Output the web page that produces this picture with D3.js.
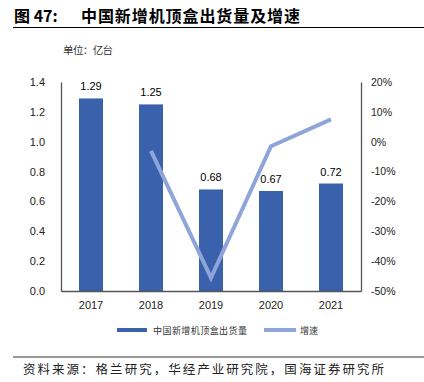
<!DOCTYPE html>
<html><head><meta charset="utf-8">
<script src="https://cdn.jsdelivr.net/npm/d3@7"></script>
<style>body{margin:0;background:#fff}svg{display:block}</style>
</head><body>
<script>
const years = ["2017","2018","2019","2020","2021"];
const shipments = [1.29, 1.25, 0.68, 0.67, 0.72];
const growth = [null, -3.1, -45.6, -1.5, 7.5];
const leftTicks = [0,0.2,0.4,0.6,0.8,1.0,1.2,1.4];
const rightTicks = [20,10,0,-10,-20,-30,-40,-50];

const W=424,H=382;
const svg=d3.select("body").append("svg").attr("width",W).attr("height",H);
const cjk='"Noto Sans CJK SC", sans-serif';
const lat='"Liberation Sans", Arial, sans-serif';

svg.append("text").attr("x",14).attr("y",22).attr("font-family",cjk).attr("font-weight","bold")
  .attr("font-size",16).attr("fill","#000").text("图 47:");
svg.append("text").attr("x",81).attr("y",22).attr("font-family",cjk).attr("font-weight","bold")
  .attr("font-size",16).attr("fill","#000").attr("textLength",219).attr("lengthAdjust","spacing")
  .text("中国新增机顶盒出货量及增速");
svg.append("line").attr("x1",13).attr("x2",424).attr("y1",27.5).attr("y2",27.5).attr("stroke","#000").attr("stroke-width",1);
svg.append("text").attr("x",63).attr("y",54).attr("font-family",cjk).attr("font-size",10.5).attr("fill","#333")
  .attr("textLength",50).attr("lengthAdjust","spacing").text("单位：亿台");

const x0=61,x1=361,yTop=82,yBot=291;
const x=d3.scaleBand().domain(years).range([x0,x1]).paddingInner(0.6).paddingOuter(0.3);
const y=d3.scaleLinear().domain([0,1.4]).range([yBot,yTop]);
const y2=d3.scaleLinear().domain([-50,20]).range([yBot,yTop]);

const g=svg.append("g");
g.selectAll("rect.bar").data(shipments).join("rect").attr("class","bar")
  .attr("x",(d,i)=>x(years[i])).attr("width",x.bandwidth())
  .attr("y",d=>y(d)).attr("height",d=>yBot-y(d)).attr("fill","#3A62AC");
g.selectAll("text.lbl").data(shipments).join("text").attr("class","lbl")
  .attr("x",(d,i)=>x(years[i])+x.bandwidth()/2).attr("y",d=>y(d)-8)
  .attr("text-anchor","middle").attr("font-family",lat).attr("font-size",11).attr("fill","#000")
  .text(d=>d.toFixed(2));

const line=d3.line().defined(d=>d.v!=null).x(d=>x(d.k)+x.bandwidth()/2).y(d=>y2(d.v));
g.append("path").datum(years.map((k,i)=>({k,v:growth[i]}))).attr("d",line)
  .attr("fill","none").attr("stroke","#8FA5D9").attr("stroke-width",4).attr("stroke-linejoin","miter");

// axes
const la=svg.append("g").attr("transform",`translate(${x0},0)`)
  .call(d3.axisLeft(y).tickValues(leftTicks).tickSize(0).tickPadding(16).tickFormat(d3.format(".1f")));
const ra=svg.append("g").attr("transform",`translate(${x1},0)`)
  .call(d3.axisRight(y2).tickValues(rightTicks).tickSize(0).tickPadding(10).tickFormat(d=>d+"%"));
const ba=svg.append("g").attr("transform",`translate(0,${yBot})`)
  .call(d3.axisBottom(x).tickSize(0).tickPadding(10));
[la,ra,ba].forEach(a=>{
  a.select(".domain").attr("stroke","#555").attr("stroke-width",1.3);
  a.selectAll("text").attr("font-family",lat).attr("font-size",11).attr("fill","#222");
});
ra.selectAll("text").attr("font-size",10.5);

// legend
svg.append("rect").attr("x",117).attr("y",328).attr("width",30).attr("height",4).attr("fill","#3A62AC");
svg.append("text").attr("x",153).attr("y",334).attr("font-family",cjk).attr("font-size",9).attr("fill","#333")
  .attr("textLength",94).attr("lengthAdjust","spacing").text("中国新增机顶盒出货量");
svg.append("rect").attr("x",264).attr("y",328).attr("width",32).attr("height",4).attr("fill","#8FA5D9");
svg.append("text").attr("x",300).attr("y",334).attr("font-family",cjk).attr("font-size",9).attr("fill","#333").text("增速");

svg.append("line").attr("x1",13).attr("x2",424).attr("y1",357).attr("y2",357).attr("stroke","#333").attr("stroke-width",1);
svg.append("text").attr("x",23).attr("y",374).attr("font-family",cjk).attr("font-size",12.5).attr("fill","#222")
  .attr("textLength",361).attr("lengthAdjust","spacing").text("资料来源：格兰研究，华经产业研究院，国海证券研究所");
</script>
</body></html>
